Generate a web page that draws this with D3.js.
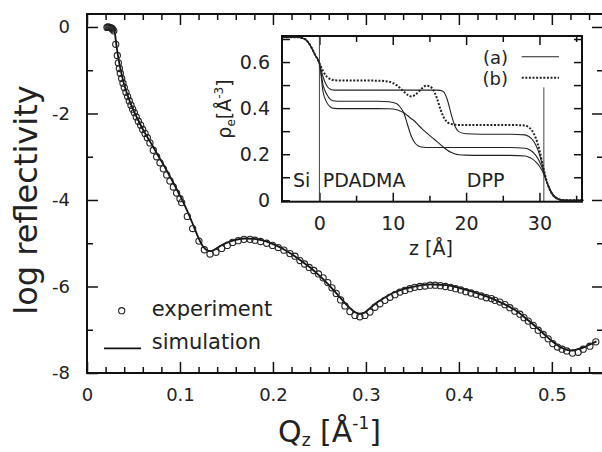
<!DOCTYPE html>
<html><head><meta charset="utf-8">
<script src="https://cdn.jsdelivr.net/npm/d3@7"></script>
<style>
body{margin:0;background:#fff}
svg{display:block}
text{font-family:"DejaVu Sans",sans-serif;fill:#222}
</style>
</head><body>
<svg id="chart" width="602" height="452"></svg>
<script>
// ---------- main plot data: log reflectivity vs Qz ----------
const expQ = [0.0215,0.0225,0.0235,0.0245,0.0255,0.0265,0.0276,0.0288,0.0309,0.0326,0.0337,0.0348,0.0358,0.0373,0.0387,0.0401,0.0419,0.0437,0.0455,0.0473,0.0491,0.0509,0.0530,0.0552,0.0577,0.0599,0.0624,0.0649,0.0677,0.0713,0.0749,0.0785,0.0821,0.0857,0.0892,0.0928,0.0964,0.1000,0.1018,0.1079,0.1136,0.1204,0.1262,0.1323,0.1387,0.1448,0.1509,0.1566,0.1627,0.1688,0.1753,0.1806,0.1867,0.1932,0.1996,0.2057,0.2118,0.2183,0.2237,0.2290,0.2340,0.2390,0.2440,0.2490,0.2540,0.2590,0.2635,0.2680,0.2728,0.2774,0.2828,0.2882,0.2935,0.2989,0.3043,0.3097,0.3151,0.3204,0.3258,0.3312,0.3366,0.3419,0.3473,0.3525,0.3580,0.3635,0.3690,0.3745,0.3800,0.3855,0.3910,0.3965,0.4020,0.4075,0.4130,0.4185,0.4240,0.4295,0.4350,0.4387,0.4441,0.4495,0.4548,0.4602,0.4656,0.4700,0.4746,0.4799,0.4853,0.4907,0.4960,0.5010,0.5060,0.5110,0.5160,0.5222,0.5283,0.5337,0.5409,0.5473];
const expR = [-0.01,0.00,-0.01,-0.01,-0.02,-0.03,-0.05,-0.09,-0.40,-0.66,-0.83,-0.96,-1.07,-1.19,-1.30,-1.40,-1.51,-1.61,-1.71,-1.81,-1.90,-1.98,-2.08,-2.18,-2.27,-2.37,-2.46,-2.56,-2.68,-2.85,-3.00,-3.14,-3.28,-3.42,-3.56,-3.70,-3.84,-3.97,-4.06,-4.38,-4.66,-4.95,-5.15,-5.25,-5.21,-5.12,-5.05,-4.98,-4.94,-4.91,-4.91,-4.93,-4.96,-5.00,-5.05,-5.10,-5.16,-5.24,-5.30,-5.40,-5.48,-5.56,-5.63,-5.71,-5.80,-5.91,-6.03,-6.16,-6.31,-6.45,-6.58,-6.67,-6.70,-6.67,-6.59,-6.48,-6.40,-6.32,-6.25,-6.19,-6.13,-6.09,-6.05,-6.02,-6.00,-5.99,-5.97,-5.97,-5.98,-6.00,-6.02,-6.05,-6.08,-6.12,-6.15,-6.18,-6.22,-6.26,-6.28,-6.32,-6.36,-6.42,-6.49,-6.57,-6.64,-6.72,-6.80,-6.90,-7.01,-7.11,-7.21,-7.32,-7.40,-7.45,-7.49,-7.54,-7.52,-7.45,-7.38,-7.28];

const simQ = [0.0285,0.0300,0.0315,0.0330,0.0350,0.0375,0.040,0.045,0.050,0.055,0.060,0.065,0.070,0.075,0.080,0.085,0.090,0.095,0.100,0.105,0.110,0.115,0.120,0.125,0.130,0.133,0.137,0.142,0.150,0.160,0.170,0.180,0.190,0.200,0.210,0.220,0.230,0.240,0.250,0.260,0.270,0.280,0.287,0.293,0.298,0.303,0.310,0.320,0.330,0.340,0.350,0.360,0.370,0.380,0.390,0.400,0.410,0.420,0.430,0.440,0.450,0.460,0.470,0.480,0.490,0.500,0.510,0.517,0.522,0.528,0.535,0.542,0.548];
const simR = [-0.02,-0.15,-0.40,-0.62,-0.87,-1.12,-1.33,-1.66,-1.93,-2.15,-2.36,-2.55,-2.73,-2.92,-3.10,-3.29,-3.49,-3.69,-3.90,-4.12,-4.36,-4.62,-4.88,-5.08,-5.17,-5.18,-5.15,-5.08,-4.99,-4.92,-4.89,-4.90,-4.94,-5.02,-5.12,-5.25,-5.40,-5.56,-5.75,-5.96,-6.20,-6.44,-6.58,-6.63,-6.61,-6.53,-6.40,-6.26,-6.14,-6.06,-6.01,-5.97,-5.95,-5.96,-5.98,-6.03,-6.09,-6.16,-6.23,-6.32,-6.42,-6.54,-6.70,-6.88,-7.07,-7.26,-7.41,-7.47,-7.48,-7.45,-7.40,-7.33,-7.27];

const qMajorTicks = [0,0.1,0.2,0.3,0.4,0.5];
const qMinorTicks = [0.02,0.04,0.06,0.08,0.12,0.14,0.16,0.18,0.22,0.24,0.26,0.28,0.32,0.34,0.36,0.38,0.42,0.44,0.46,0.48,0.52,0.54];
const rMajorTicks = [-8,-6,-4,-2,0];
const rMinorTicks = [-7,-5,-3,-1];
const legendLabels = ["experiment","simulation"];

// ---------- inset data: electron density profiles ----------
const profZ  = [-5,-3,-2,-1.3,-0.6,0,0.5,1,1.5,2,3,5,8,9.5,10.5,11,11.5,12,12.5,13,13.5,14,14.5,15,15.5,16,16.5,17,17.5,18,18.5,19,20,22,26,28,28.5,29,29.5,30,30.5,31,31.5,32,32.5,33,34,36];
const profA1 = [0.708,0.708,0.700,0.675,0.632,0.595,0.535,0.497,0.482,0.478,0.478,0.478,0.478,0.478,0.478,0.478,0.478,0.478,0.478,0.478,0.478,0.478,0.478,0.478,0.478,0.478,0.477,0.468,0.430,0.370,0.320,0.298,0.289,0.287,0.287,0.284,0.278,0.265,0.240,0.200,0.140,0.080,0.038,0.015,0.005,0.001,0,0];
const profA2 = [0.708,0.708,0.700,0.675,0.632,0.595,0.500,0.460,0.438,0.431,0.430,0.430,0.430,0.428,0.420,0.405,0.380,0.330,0.280,0.250,0.236,0.231,0.229,0.229,0.229,0.229,0.229,0.229,0.229,0.229,0.229,0.229,0.229,0.229,0.229,0.226,0.222,0.212,0.195,0.168,0.130,0.080,0.040,0.016,0.006,0.001,0,0];
const profA3 = [0.708,0.708,0.700,0.675,0.632,0.595,0.470,0.425,0.405,0.399,0.398,0.398,0.398,0.397,0.393,0.388,0.380,0.368,0.355,0.343,0.326,0.310,0.296,0.282,0.269,0.256,0.242,0.228,0.216,0.207,0.201,0.198,0.196,0.195,0.195,0.192,0.188,0.180,0.167,0.148,0.120,0.080,0.045,0.020,0.008,0.002,0,0];
const profB  = [0.708,0.708,0.700,0.675,0.632,0.595,0.560,0.537,0.526,0.521,0.520,0.520,0.519,0.515,0.500,0.487,0.472,0.458,0.451,0.456,0.470,0.486,0.497,0.495,0.480,0.445,0.395,0.357,0.338,0.331,0.328,0.327,0.327,0.327,0.327,0.325,0.318,0.302,0.270,0.218,0.145,0.082,0.040,0.017,0.007,0.002,0,0];
const zMajorTicks = [0,10,20,30];
const zMinorTicks = [5,15,25,35];
const rhoMajorTicks = [0,0.2,0.4,0.6];
const rhoMinorTicks = [0.1,0.3,0.5,0.7];
const interfaceZ = [0,30.6];
const interfaceTop = [0.713,0.49];
const regionLabels = ["Si","PDADMA","DPP"];
const regionZ = [-3.6,0.45,20.1];
const insetLegend = ["(a)","(b)"];

// ---------- drawing ----------
const svg = d3.select("#chart");
const M = {l:87, r:603, t:14, b:373};
const x = d3.scaleLinear().domain([0,0.555]).range([M.l,M.r]);
const y = d3.scaleLinear().domain([-8,0.3]).range([M.b,M.t]);
const fmt1 = d => d===0 ? "0" : d3.format(".1f")(d);

function styleAxis(g, fs){
  g.select(".domain").remove();
  g.selectAll(".tick line").attr("stroke","#111").attr("stroke-width",1.5);
  g.selectAll(".tick text").attr("font-size",fs).attr("fill","#222").attr("font-family","DejaVu Sans, sans-serif");
}
// main axes
svg.append("g").attr("transform",`translate(0,${M.b})`)
  .call(d3.axisBottom(x).tickValues(qMajorTicks).tickSizeInner(-11).tickSizeOuter(0).tickPadding(15).tickFormat(fmt1))
  .call(g=>styleAxis(g,18));
svg.append("g").attr("transform",`translate(0,${M.b})`)
  .call(d3.axisBottom(x).tickValues(qMinorTicks).tickSizeInner(-6).tickSizeOuter(0).tickFormat(""))
  .call(g=>styleAxis(g,18));
svg.append("g").attr("transform",`translate(0,${M.t})`)
  .call(d3.axisTop(x).tickValues(qMajorTicks).tickSizeInner(-11).tickSizeOuter(0).tickFormat(""))
  .call(g=>styleAxis(g,18));
svg.append("g").attr("transform",`translate(0,${M.t})`)
  .call(d3.axisTop(x).tickValues(qMinorTicks).tickSizeInner(-6).tickSizeOuter(0).tickFormat(""))
  .call(g=>styleAxis(g,18));
svg.append("g").attr("transform",`translate(${M.l},0)`)
  .call(d3.axisLeft(y).tickValues(rMajorTicks).tickSizeInner(-11).tickSizeOuter(0).tickPadding(17).tickFormat(d=>String(d)))
  .call(g=>styleAxis(g,18));
svg.append("g").attr("transform",`translate(${M.l},0)`)
  .call(d3.axisLeft(y).tickValues(rMinorTicks).tickSizeInner(-6).tickSizeOuter(0).tickFormat(""))
  .call(g=>styleAxis(g,18));
svg.append("g").attr("transform",`translate(${M.r},0)`)
  .call(d3.axisRight(y).tickValues(rMajorTicks).tickSizeInner(-11).tickSizeOuter(0).tickFormat(""))
  .call(g=>styleAxis(g,18));
svg.append("g").attr("transform",`translate(${M.r},0)`)
  .call(d3.axisRight(y).tickValues(rMinorTicks).tickSizeInner(-6).tickSizeOuter(0).tickFormat(""))
  .call(g=>styleAxis(g,18));
svg.append("rect").attr("x",M.l).attr("y",M.t).attr("width",M.r-M.l).attr("height",M.b-M.t)
  .attr("fill","none").attr("stroke","#111").attr("stroke-width",2);

// simulation line
const simData = simQ.map((q,i)=>[q,simR[i]]);
svg.append("path").datum(simData)
  .attr("d", d3.line().x(d=>x(d[0])).y(d=>y(d[1])).curve(d3.curveMonotoneX))
  .attr("fill","none").attr("stroke","#111").attr("stroke-width",1.8);
// experiment points
svg.append("g").selectAll("circle").data(expQ.map((q,i)=>[q,expR[i]])).join("circle")
  .attr("cx",d=>x(d[0])).attr("cy",d=>y(d[1])).attr("r",3.1)
  .attr("fill","none").attr("stroke","#222").attr("stroke-width",1.1);

// main legend
svg.append("circle").attr("cx",121.7).attr("cy",310.7).attr("r",3.1).attr("fill","none").attr("stroke","#222").attr("stroke-width",1.1);
svg.append("text").attr("x",151.7).attr("y",316).attr("font-size",21).text(legendLabels[0]);
svg.append("line").attr("x1",104).attr("x2",141).attr("y1",348.3).attr("y2",348.3).attr("stroke","#111").attr("stroke-width",1.8);
svg.append("text").attr("x",151.7).attr("y",349).attr("font-size",21).text(legendLabels[1]);

// main axis titles
svg.append("text").attr("transform","translate(37,200) rotate(-90)").attr("text-anchor","middle")
  .attr("font-size",32).text("log reflectivity");
const xt = svg.append("text").attr("x",278).attr("y",442).attr("font-size",30);
xt.append("tspan").text("Q");
xt.append("tspan").attr("font-size",17).attr("dy",4).text("z");
xt.append("tspan").attr("dy",-4).text(" [Å");
xt.append("tspan").attr("font-size",17).attr("dy",-13).text("-1");
xt.append("tspan").attr("dy",13).text("]");

// ---------- inset ----------
const I = {l:282, r:582, t:36, b:201.7};
const xz = d3.scaleLinear().domain([-5.1,35.8]).range([I.l,I.r]);
const yr = d3.scaleLinear().domain([-0.006,0.713]).range([I.b,I.t]);
svg.append("rect").attr("x",I.l).attr("y",I.t).attr("width",I.r-I.l).attr("height",I.b-I.t).attr("fill","#fff");

svg.append("g").attr("transform",`translate(0,${I.b})`)
  .call(d3.axisBottom(xz).tickValues(zMajorTicks).tickSizeInner(-9).tickSizeOuter(0).tickPadding(14.8).tickFormat(d=>String(d)))
  .call(g=>styleAxis(g,19));
svg.append("g").attr("transform",`translate(0,${I.b})`)
  .call(d3.axisBottom(xz).tickValues(zMinorTicks).tickSizeInner(-6).tickSizeOuter(0).tickFormat(""))
  .call(g=>styleAxis(g,19));
svg.append("g").attr("transform",`translate(0,${I.t})`)
  .call(d3.axisTop(xz).tickValues(zMajorTicks).tickSizeInner(-9).tickSizeOuter(0).tickFormat(""))
  .call(g=>styleAxis(g,19));
svg.append("g").attr("transform",`translate(0,${I.t})`)
  .call(d3.axisTop(xz).tickValues(zMinorTicks).tickSizeInner(-6).tickSizeOuter(0).tickFormat(""))
  .call(g=>styleAxis(g,19));
svg.append("g").attr("transform",`translate(${I.l},0)`)
  .call(d3.axisLeft(yr).tickValues(rhoMajorTicks).tickSizeInner(-8).tickSizeOuter(0).tickPadding(12).tickFormat(fmt1))
  .call(g=>styleAxis(g,19));
svg.append("g").attr("transform",`translate(${I.l},0)`)
  .call(d3.axisLeft(yr).tickValues(rhoMinorTicks).tickSizeInner(-8).tickSizeOuter(0).tickFormat(""))
  .call(g=>styleAxis(g,19));
svg.append("g").attr("transform",`translate(${I.r},0)`)
  .call(d3.axisRight(yr).tickValues(rhoMajorTicks.concat(rhoMinorTicks)).tickSizeInner(-8).tickSizeOuter(0).tickFormat(""))
  .call(g=>styleAxis(g,19));

// interface markers
interfaceZ.forEach((z,i)=>{
  svg.append("line").attr("x1",xz(z)).attr("x2",xz(z)).attr("y1",yr(interfaceTop[i])).attr("y2",I.b)
    .attr("stroke","#444").attr("stroke-width",1);
});

const pline = d3.line().x(d=>xz(d[0])).y(d=>yr(d[1])).curve(d3.curveMonotoneX);
[profA1,profA2,profA3].forEach(p=>{
  svg.append("path").datum(profZ.map((z,i)=>[z,p[i]])).attr("d",pline)
    .attr("fill","none").attr("stroke","#222").attr("stroke-width",1.1);
});
svg.append("path").datum(profZ.map((z,i)=>[z,profB[i]])).attr("d",pline)
  .attr("fill","none").attr("stroke","#222").attr("stroke-width",2).attr("stroke-dasharray","2,1.6");

svg.append("rect").attr("x",I.l).attr("y",I.t).attr("width",I.r-I.l).attr("height",I.b-I.t)
  .attr("fill","none").attr("stroke","#111").attr("stroke-width",2);

// region labels
regionLabels.forEach((t,i)=>{
  svg.append("text").attr("x",xz(regionZ[i])).attr("y",187).attr("font-size",19).text(t);
});
// inset legend
svg.append("text").attr("x",508).attr("y",64.3).attr("text-anchor","end").attr("font-size",18).text(insetLegend[0]);
svg.append("line").attr("x1",521.7).attr("x2",559).attr("y1",56.7).attr("y2",56.7).attr("stroke","#222").attr("stroke-width",1.1);
svg.append("text").attr("x",508).attr("y",85).attr("text-anchor","end").attr("font-size",18).text(insetLegend[1]);
svg.append("line").attr("x1",521.7).attr("x2",559).attr("y1",77.7).attr("y2",77.7).attr("stroke","#222").attr("stroke-width",2).attr("stroke-dasharray","2,1.6");

// inset axis titles
const zt = svg.append("text").attr("x",431).attr("y",255).attr("text-anchor","middle").attr("font-size",19).text("z [Å]");
const rt = svg.append("text").attr("transform","translate(231,109) rotate(-90)").attr("text-anchor","middle").attr("font-size",19);
rt.append("tspan").text("ρ");
rt.append("tspan").attr("font-size",12).attr("dy",4).text("e");
rt.append("tspan").attr("dy",-4).text("[Å");
rt.append("tspan").attr("font-size",12).attr("dy",-8).text("-3");
rt.append("tspan").attr("dy",8).text("]");
</script>
</body></html>
